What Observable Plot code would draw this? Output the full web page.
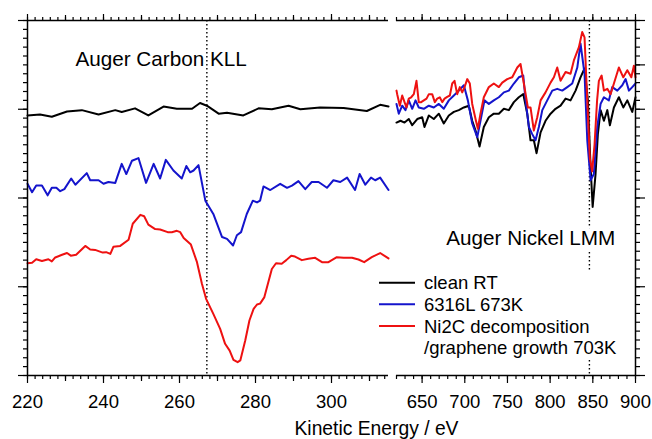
<!DOCTYPE html>
<html><head><meta charset="utf-8">
<script src="https://cdn.jsdelivr.net/npm/d3@7"></script>
<script src="https://cdn.jsdelivr.net/npm/@observablehq/plot@0.6"></script>
<style>
body{margin:0;background:#fff;}
#wrap{position:relative;width:652px;height:439px;overflow:hidden;background:#fff;font-family:"Liberation Sans",Arial,sans-serif;}
#wrap > svg, #wrap > div{position:absolute;top:0;}
</style></head><body><div id="wrap"></div>
<script>
// ---- Data (Kinetic energy in eV, intensity in arbitrary offset units) ----
const seriesNames = ["clean RT", "6316L 673K", "Ni2C decomposition\n/graphene growth 703K"];
const seriesColors = ["#000000", "#1414cc", "#ee1111"];
const carbonDomain = [220, 315];
const nickelDomain = [620, 900];
const carbonTicks = [220, 240, 260, 280, 300];
const nickelTicks = [650, 700, 750, 800, 850, 900];
const carbonPeak = [267.2];
const nickelPeak = [846];

const carbonCleanRT = [[220,2.93],[223.3,2.94],[226.4,2.915],[230.4,2.975],[234.3,2.99],[238.7,2.94],[243.1,2.99],[244.8,2.97],[248.3,3.01],[251.8,2.93],[255.8,3.03],[259.3,3.005],[263.3,3.005],[265.4,3.07],[267.2,3.04],[270.3,2.95],[272.5,2.96],[276.8,2.93],[280.8,3.01],[284.3,3.0],[288.7,3.04],[291.8,3.0],[297,3.02],[303.2,3.015],[309.3,2.98],[312.8,3.05],[315,3.03]];

const carbon6316L = [[220,2.16],[221.2,2.065],[222.3,2.14],[223.8,2.14],[225.3,2.03],[226.4,2.115],[227.6,2.115],[228.6,2.077],[229.7,2.1],[231.5,2.22],[232.6,2.15],[235.6,2.28],[236.5,2.2],[238.7,2.2],[240,2.16],[241.3,2.18],[243.1,2.17],[244.8,2.385],[246,2.27],[247.5,2.42],[249.2,2.45],[251.2,2.17],[253.2,2.385],[254.9,2.22],[256.4,2.43],[258.4,2.31],[260.6,2.22],[261.8,2.36],[262.8,2.29],[263.7,2.31],[265,2.37],[266.8,1.97],[268.9,1.82],[271.2,1.56],[272.5,1.54],[274.1,1.465],[275.1,1.58],[276.2,1.615],[277.7,1.82],[279.3,1.97],[280.4,1.95],[281.2,1.97],[282.1,2.13],[283.9,2.09],[286.5,2.16],[288.3,2.115],[289.6,2.14],[291.3,2.19],[293.1,2.1],[294.8,2.18],[296.6,2.18],[298.8,2.115],[300.5,2.2],[302.3,2.18],[304.1,2.23],[306.2,2.09],[307.4,2.27],[308.9,2.15],[310.4,2.23],[311.5,2.2],[312.8,2.23],[315,2.09]];

const carbonNi2C = [[220,1.265],[221.2,1.27],[222.3,1.31],[223.8,1.29],[225.5,1.31],[226.4,1.285],[227.3,1.33],[229.1,1.36],[230.4,1.38],[231.4,1.35],[232.8,1.36],[235.2,1.46],[236.5,1.42],[237.8,1.415],[239.8,1.385],[240.7,1.39],[241.8,1.37],[242.6,1.45],[244.4,1.46],[246.6,1.53],[247.7,1.71],[249.7,1.81],[250.7,1.795],[251.8,1.7],[253.6,1.65],[254.9,1.645],[256.9,1.615],[258,1.615],[259.3,1.63],[260.2,1.615],[261.1,1.55],[263,1.475],[264.6,1.277],[265.9,1.033],[267,0.864],[268.9,0.695],[270.7,0.526],[272,0.357],[273.2,0.28],[274.2,0.177],[275.3,0.15],[276,0.17],[277.3,0.394],[278.4,0.62],[279.5,0.75],[280.4,0.8],[281.2,0.81],[282.3,0.88],[284.3,1.2],[285.4,1.265],[286.9,1.26],[288.1,1.3],[289.4,1.35],[290.4,1.34],[292.2,1.3],[293.9,1.315],[295.7,1.326],[297.5,1.277],[299.2,1.277],[301.4,1.333],[303.2,1.326],[305.4,1.326],[307.1,1.307],[308.6,1.277],[310.6,1.333],[312.8,1.38],[315,1.32]];

const nickelCleanRT = [[620,2.85],[624.7,2.87],[629.4,2.85],[634.4,2.89],[638.4,2.82],[644.3,2.89],[650.1,2.91],[652.8,2.8],[657.9,2.93],[663.7,2.89],[669.6,2.95],[675.4,2.84],[681.3,2.93],[687.2,2.97],[693,2.99],[698.9,3.02],[704.7,3.04],[708.7,2.87],[712.6,2.76],[717.3,2.58],[722.3,2.8],[728.2,2.91],[734,2.95],[739.9,2.95],[745.8,3.005],[751.6,2.99],[757.5,3.08],[763.3,3.135],[768.5,3.17],[773.2,2.95],[777,2.65],[780.9,2.65],[784.1,2.505],[788.8,2.74],[794.6,2.87],[800.5,2.95],[806.3,3.005],[812.2,3.04],[818.1,3.12],[823.9,3.1],[829.8,3.21],[835.6,3.36],[840.3,3.46],[844.2,3.1],[847.4,2.35],[849.8,1.9],[853.2,2.27],[855.9,2.72],[859.1,2.99],[863,2.87],[867,2.99],[870,2.82],[874.7,3.02],[880.5,3.135],[885.7,3.02],[890.4,3.1],[896.2,2.97],[900,3.135]];

const nickel6316L = [[620,3.06],[622.7,2.95],[626.7,3.04],[630.5,2.99],[634.4,3.1],[638.4,3.005],[642.3,3.1],[646.1,3.02],[652,3.005],[657.9,3.04],[663.7,3.02],[669.6,3.06],[675.4,3.005],[681.3,3.1],[687.2,3.155],[693,3.21],[698.9,3.27],[703.6,3.1],[708.7,2.84],[714.6,2.685],[718.4,2.87],[723.1,3.1],[728.2,3.06],[734,3.1],[739.9,3.135],[745.8,3.19],[751.6,3.21],[757.5,3.29],[763.3,3.36],[768.5,3.38],[771.2,3.1],[775.1,2.8],[779,2.72],[782.9,2.65],[786.8,2.8],[790.8,2.99],[796.6,3.1],[802.5,3.21],[808.3,3.23],[814.2,3.21],[820.1,3.25],[825.9,3.29],[831.8,3.47],[835.6,3.74],[840.3,3.4],[843.5,2.65],[847.4,2.2],[851.2,2.27],[855.2,2.8],[859.1,3.06],[863,3.135],[868.8,3.1],[872.8,3.25],[878.7,3.21],[884.5,3.27],[888.4,3.34],[892.3,3.21],[896.2,3.25],[900,3.29]];

const nickelNi2C = [[620,3.21],[620.8,3.17],[623.9,3.04],[626.7,3.155],[629.4,3.08],[631.7,3.02],[634.4,3.12],[637.2,3.135],[640.3,3.17],[643.4,3.32],[646.1,3.08],[648.9,3.08],[652,3.1],[655.2,3.12],[657.9,3.17],[661.8,3.17],[664.9,3.08],[667.7,3.12],[670.7,3.135],[673.6,3.08],[676.3,3.12],[679.4,3.14],[682.5,3.155],[685.3,3.29],[688,3.32],[691.1,3.17],[694.2,3.25],[697,3.19],[699.7,3.25],[702.9,3.34],[705.9,3.29],[708.7,3.06],[712.6,2.89],[715.3,2.78],[718.4,2.95],[722.3,3.135],[728.2,3.25],[734,3.29],[739.9,3.25],[743.9,3.3],[749.7,3.34],[755.6,3.36],[761.5,3.47],[765.3,3.51],[769.2,3.29],[773.9,3.02],[777,3.02],[780.9,2.76],[784.9,2.91],[788.8,3.1],[794.6,3.19],[800.5,3.3],[804.4,3.36],[808.3,3.47],[812.2,3.32],[818.1,3.42],[823.9,3.4],[827.8,3.55],[833.7,3.7],[837.6,3.87],[840.3,3.81],[843.5,3.1],[846.5,2.45],[849.2,2.3],[852,2.6],[855,3.1],[857.1,3.32],[860.3,3.38],[863,3.21],[867,3.23],[870.8,3.17],[874.7,3.29],[880.5,3.47],[885.7,3.36],[890.4,3.44],[895.1,3.36],[898.1,3.49],[900,3.36]];

const yMajorLeft = [0, 1, 2, 3, 4];
const yMajorRight = [0, 1, 2, 3, 3.5, 4];
const yMinor = d3.range(0, 41).map(i => i / 10);
const carbonMinor = d3.range(220, 316, 2);
const carbonMedium = d3.range(230, 316, 20);
const nickelMinor = d3.range(620, 901, 10);

const carbonLabel = [{x: 232.6, y: 3.485, text: "Auger Carbon KLL"}];
const nickelLabel = [{x: 678.3, y: 1.465, text: "Auger Nickel LMM"}];

// ---- Layout ----
const FONT = "Liberation Sans, Arial, sans-serif";
const H = 420, MT = 20, MB = 45;
const blank = () => "";

function curves(sets) {
  return sets.map((s, i) => Plot.line(s, {x: d => d[0], y: d => d[1], stroke: seriesColors[i], strokeWidth: 2, strokeLinejoin: "round"}));
}

const left = Plot.plot({
  width: 392, height: H,
  marginLeft: 27, marginRight: 4, marginTop: MT, marginBottom: MB,
  x: {domain: carbonDomain, label: null},
  y: {domain: [0, 4], label: null},
  style: {fontFamily: FONT, fontSize: "18.5px", color: "black", background: "transparent", overflow: "visible"},
  marks: [
    Plot.ruleX(carbonPeak, {stroke: "black", strokeWidth: 1.4, strokeDasharray: "1.6,2.4"}),
    ...curves([carbonCleanRT, carbon6316L, carbonNi2C]),
    Plot.text(carbonLabel, {x: "x", y: "y", text: "text", textAnchor: "start", lineAnchor: "bottom", fontSize: 20.7, fill: "black"}),
    Plot.ruleX([carbonDomain[0]], {stroke: "black", strokeWidth: 1.5}),
    Plot.ruleY([0, 4], {stroke: "black", strokeWidth: 1.5}),
    Plot.axisX({anchor: "bottom", ticks: carbonMinor, tickSize: 4, tickFormat: blank, label: null, strokeWidth: 1.2}),
    Plot.axisX({anchor: "bottom", ticks: carbonMedium, tickSize: 6, tickFormat: blank, label: null, strokeWidth: 1.2}),
    Plot.axisX({anchor: "bottom", ticks: carbonTicks, tickSize: 8, tickPadding: 11, label: null, strokeWidth: 1.2, fontSize: 18.5}),
    Plot.axisX({anchor: "top", ticks: carbonMinor, tickSize: 4, tickFormat: blank, label: null, strokeWidth: 1.2}),
    Plot.axisX({anchor: "top", ticks: carbonMedium, tickSize: 6, tickFormat: blank, label: null, strokeWidth: 1.2}),
    Plot.axisX({anchor: "top", ticks: carbonTicks, tickSize: 7, tickFormat: blank, label: null, strokeWidth: 1.2}),
    Plot.axisY({anchor: "left", ticks: yMinor, tickSize: 4, tickFormat: blank, label: null, strokeWidth: 1.2}),
    Plot.axisY({anchor: "left", ticks: yMajorLeft, tickSize: 9, tickFormat: blank, label: null, strokeWidth: 1.2})
  ]
});
left.style.left = "0px";

const right = Plot.plot({
  width: 260, height: H,
  marginLeft: 4, marginRight: 17, marginTop: MT, marginBottom: MB,
  x: {domain: nickelDomain, label: null},
  y: {domain: [0, 4], label: null},
  style: {fontFamily: FONT, fontSize: "18.5px", color: "black", background: "transparent", overflow: "visible"},
  marks: [
    Plot.ruleX(nickelPeak, {stroke: "black", strokeWidth: 1.4, strokeDasharray: "1.6,2.4"}),
    ...curves([nickelCleanRT, nickel6316L, nickelNi2C]),
    Plot.text(nickelLabel, {x: "x", y: "y", text: "text", textAnchor: "start", lineAnchor: "bottom", fontSize: 20.7, fill: "black", stroke: "white", strokeWidth: 10}),
    Plot.ruleX([nickelDomain[1]], {stroke: "black", strokeWidth: 1.5}),
    Plot.ruleY([0, 4], {stroke: "black", strokeWidth: 1.5}),
    Plot.axisX({anchor: "bottom", ticks: nickelMinor, tickSize: 4, tickFormat: blank, label: null, strokeWidth: 1.2}),
    Plot.axisX({anchor: "bottom", ticks: nickelTicks, tickSize: 8, tickPadding: 11, label: null, strokeWidth: 1.2, fontSize: 18.5}),
    Plot.axisX({anchor: "top", ticks: nickelMinor, tickSize: 4, tickFormat: blank, label: null, strokeWidth: 1.2}),
    Plot.axisX({anchor: "top", ticks: nickelTicks, tickSize: 7, tickFormat: blank, label: null, strokeWidth: 1.2}),
    Plot.axisY({anchor: "right", ticks: yMinor, tickSize: 4, tickFormat: blank, label: null, strokeWidth: 1.2}),
    Plot.axisY({anchor: "right", ticks: yMajorRight, tickSize: 9, tickFormat: blank, label: null, strokeWidth: 1.2})
  ]
});
right.style.left = "392px";

const wrap = document.getElementById("wrap");
wrap.appendChild(left);
wrap.appendChild(right);

// x-axis title and legend overlay
const ns = "http://www.w3.org/2000/svg";
const over = document.createElementNS(ns, "svg");
over.setAttribute("width", 652); over.setAttribute("height", 439);
over.style.left = "0px"; over.style.pointerEvents = "none";
const title = document.createElementNS(ns, "text");
title.setAttribute("x", 376.5); title.setAttribute("y", 435);
title.setAttribute("text-anchor", "middle");
title.setAttribute("font-family", FONT); title.setAttribute("font-size", "19.3");
title.textContent = "Kinetic Energy / eV";
over.appendChild(title);

const lg = document.createElementNS(ns, "g");
lg.setAttribute("transform", "translate(379,272)");
const bg = document.createElementNS(ns, "rect");
bg.setAttribute("width", 249); bg.setAttribute("height", 88); bg.setAttribute("fill", "white");
lg.appendChild(bg);
let row = 0;
seriesNames.forEach((name, i) => {
  const lines = name.split("\n");
  const yb = 17.3 + row * 21.6;
  const ln = document.createElementNS(ns, "line");
  ln.setAttribute("x1", 0); ln.setAttribute("x2", 36);
  ln.setAttribute("y1", yb - 6.6); ln.setAttribute("y2", yb - 6.6);
  ln.setAttribute("stroke", seriesColors[i]); ln.setAttribute("stroke-width", 2);
  lg.appendChild(ln);
  lines.forEach((t, j) => {
    const tx = document.createElementNS(ns, "text");
    tx.setAttribute("x", 45); tx.setAttribute("y", 17.3 + (row + j) * 21.6);
    tx.setAttribute("font-family", FONT); tx.setAttribute("font-size", "18.5");
    tx.textContent = t;
    lg.appendChild(tx);
  });
  row += lines.length;
});
over.appendChild(lg);
wrap.appendChild(over);
</script>
</body></html>
